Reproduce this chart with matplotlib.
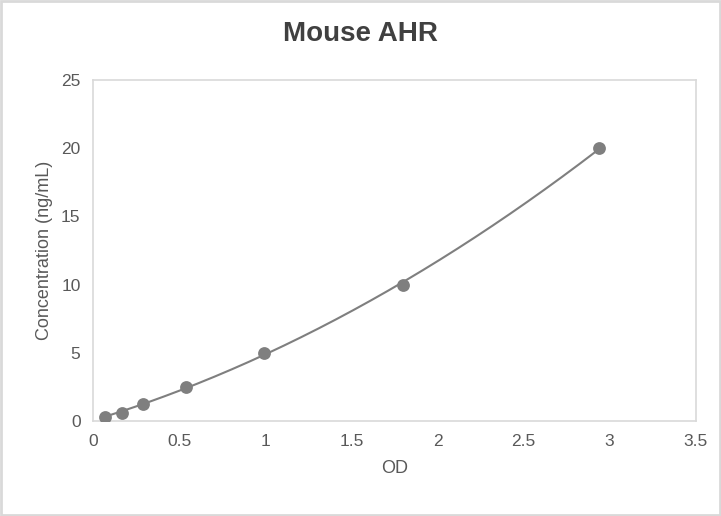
import numpy as np
import matplotlib.pyplot as plt
from matplotlib.patches import Rectangle

plt.rcParams['font.family'] = ['Liberation Sans', 'DejaVu Sans']

od = [0.07, 0.17, 0.29, 0.54, 0.99, 1.80, 2.94]
conc = [0.31, 0.625, 1.25, 2.5, 5.0, 10.0, 20.0]
x_ticks = [0, 0.5, 1, 1.5, 2, 2.5, 3, 3.5]
x_labels = ['0', '0.5', '1', '1.5', '2', '2.5', '3', '3.5']
y_ticks = [0, 5, 10, 15, 20, 25]

grey = '#7f7f7f'
text_col = '#595959'

fig = plt.figure(figsize=(7.21, 5.16), dpi=100)
ax = fig.add_axes([0.129, 0.184, 0.836, 0.661])

# polynomial trendline through the standards
coef = np.polyfit(od, conc, 2)
xs = np.linspace(min(od), max(od), 200)
ax.plot(xs, np.polyval(coef, xs), color=grey, lw=1.5, zorder=2)
ax.scatter(od, conc, s=85, color=grey, zorder=3, linewidths=0)

ax.set_xlim(0, 3.5)
ax.set_ylim(0, 25)
ax.set_xticks(x_ticks)
ax.set_xticklabels(x_labels)
ax.set_yticks(y_ticks)
ax.tick_params(length=0, labelsize=12.5, colors=text_col, pad=9)
for s in ax.spines.values():
    s.set_color('#d9d9d9')
    s.set_linewidth(1.2)

ax.set_xlabel('OD', fontsize=13, color=text_col, labelpad=8)
ax.set_ylabel('Concentration (ng/mL)', fontsize=13, color=text_col, labelpad=6)
fig.text(0.5, 0.935, 'Mouse AHR', ha='center', va='center',
         fontsize=20, fontweight='bold', color='#404040')

fig.patches.append(Rectangle((0.002, 0.002), 0.996, 0.996, transform=fig.transFigure,
                             fill=False, edgecolor='#d9d9d9', lw=2))

fig.savefig('out.png', dpi=100)
